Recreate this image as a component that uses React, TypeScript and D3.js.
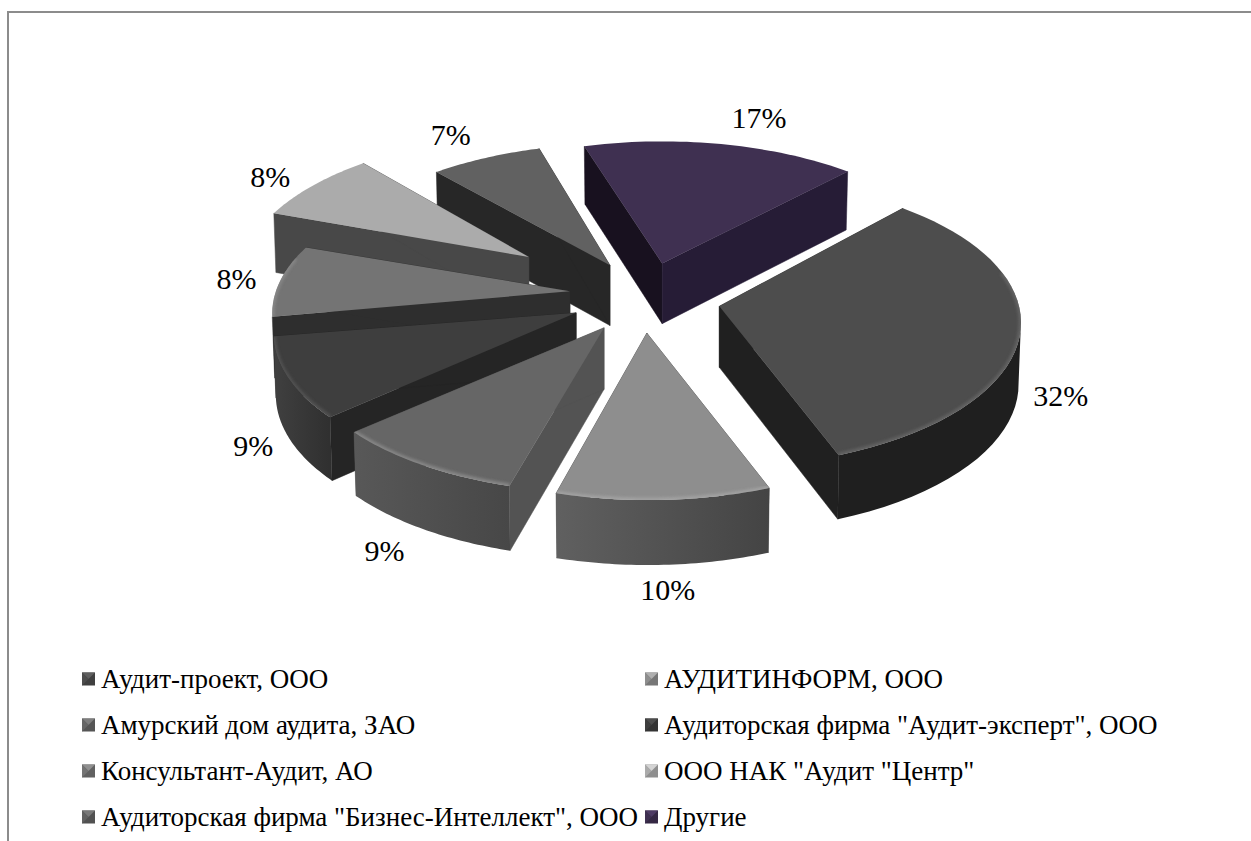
import { useEffect, useRef } from "react";
import * as d3 from "d3";

const categories = [
  "Аудит-проект, ООО",
  "АУДИТИНФОРМ, ООО",
  "Амурский дом аудита, ЗАО",
  'Аудиторская фирма "Аудит-эксперт", ООО',
  "Консультант-Аудит, АО",
  'ООО НАК "Аудит "Центр"',
  'Аудиторская фирма "Бизнес-Интеллект", ООО',
  "Другие",
];
const shares = [32.3, 9.8, 9.0, 9.0, 8.1, 8.0, 6.9, 16.9];
const explode = [0.245, 0.24, 0.228, 0.235, 0.254, 0.504, 0.267, 0.24];

// colours per slice
const topColors = ["#4d4d4d", "#8e8e8e", "#666666", "#3e3e3e", "#747474", "#ababab", "#616161", "#3f3051"];
const rimColors = ["#6a6a6a", "#a8a8a8", "#929292", "#585858", "#8c8c8c", "#c6c6c6", "#6c6c6c", "#4a3b5c"];
const sideLeft = ["#1f1f1f", "#606060", "#585858", "#404040", "#333333", "#555555", "#444444", "#261c36"];
const sideRight = ["#1f1f1f", "#444444", "#474747", "#2f2f2f", "#2e2e2e", "#484848", "#272727", "#261c36"];
const cutStart = ["#202020", "#444444", "#535353", "#252525", "#2e2e2e", "#484848", "#272727", "#18111f"];
const cutEnd = ["#202020", "#444444", "#535353", "#252525", "#2e2e2e", "#484848", "#272727", "#261c36"];

// small corrections for the perspective of each exploded slice
const apexAdjust = [[0, 6], [-2, 0], [0, 3], [-1, 4], [0, 1], [0, 0], [0, 1], [3, -1]];
const rimAdjust = [[-2, 0], [-1, 0], [-3, 1], [0, 2], [6, 1], [15, 0], [7, 1.5], [3, -1]];

// label offsets from the middle of each slice's rim
const labelNudge = [[38, 66], [3, 90], [-40, 87], [-35, 70], [-38, -1], [-28, -9], [-28, -22], [41, -28]];

const App = () => {
  const svgRef = useRef(null);

  useEffect(() => {
    if (!svgRef.current) return;
    const svg = d3.select(svgRef.current);
    svg.selectAll("*").remove();

    const width = 1251;
    const height = 841;
    const serif = "'Liberation Serif', serif";

    // Frame: top and left edges only
    svg.append("path")
      .attr("d", `M${width},12H8V${height}`)
      .attr("fill", "none")
      .attr("stroke", "#8c8c8c")
      .attr("stroke-width", 2);

    // Pie projection (tilted, front larger than the back)
    const cx = 645;
    const cy = 293;
    const rx = 300;
    const ry = 141;
    const persp = 0.1557;
    const project = (t: number): [number, number] => {
      const s = 1 / (1 + persp * Math.cos(t));
      return [rx * Math.sin(t) * s, -ry * Math.cos(t) * s];
    };
    const depth = (y: number) => 61 + (y - 300) * 0.02;

    const pie = d3.pie<number>()
      .sort(null)
      .startAngle((43.5 * Math.PI) / 180)
      .endAngle((403.5 * Math.PI) / 180);
    const arcs = pie(shares);

    const defs = svg.append("defs");
    const blur = defs.append("filter").attr("id", "rim-blur")
      .attr("x", "-10%").attr("y", "-10%").attr("width", "120%").attr("height", "120%");
    blur.append("feGaussianBlur").attr("stdDeviation", 1.8);

    const line = d3.line();

    // back to front
    const drawOrder = [7, 6, 5, 4, 3, 2, 1, 0];
    drawOrder.forEach((i) => {
      const a = arcs[i];
      const mid = (a.startAngle + a.endAngle) / 2;
      const mv = project(mid);
      const base: [number, number] = [cx + explode[i] * mv[0], cy + explode[i] * mv[1]];
      const apex: [number, number] = [base[0] + apexAdjust[i][0], base[1] + apexAdjust[i][1]];
      const angles = d3.range(41).map((k) => a.startAngle + ((a.endAngle - a.startAngle) * k) / 40);
      const rim = angles.map((t) => {
        const v = project(t);
        return [base[0] + v[0] + rimAdjust[i][0], base[1] + v[1] + rimAdjust[i][1]] as [number, number];
      });
      // only the front part of the outer wall faces the viewer
      const outer = rim.filter((_, k) => Math.cos(angles[k]) < -persp);
      const glow = rim.filter((_, k) => Math.cos(angles[k]) < 0.25);
      const drop = (p: [number, number]): [number, number] => [
        apex[0] + (p[0] - apex[0]) * 0.992,
        p[1] + depth(p[1]),
      ];
      const first = rim[0];
      const last = rim[rim.length - 1];
      const g = svg.append("g");

      g.append("path")
        .attr("d", line([apex, first, drop(first), drop(apex)]) + "Z")
        .attr("fill", cutStart[i])
        .attr("stroke", cutStart[i])
        .attr("stroke-width", 0.5);
      g.append("path")
        .attr("d", line([apex, last, drop(last), drop(apex)]) + "Z")
        .attr("fill", cutEnd[i])
        .attr("stroke", cutEnd[i])
        .attr("stroke-width", 0.5);

      if (outer.length > 1) {
        const grad = defs.append("linearGradient").attr("id", `side-${i}`);
        grad.append("stop").attr("offset", 0).attr("stop-color", sideLeft[i]);
        grad.append("stop").attr("offset", 1).attr("stop-color", sideRight[i]);
        g.append("path")
          .attr("d", line([...outer, ...outer.map(drop).reverse()]) + "Z")
          .attr("fill", `url(#side-${i})`);
      }

      const top = line([apex, ...rim]) + "Z";
      defs.append("clipPath").attr("id", `top-${i}`).append("path").attr("d", top);
      g.append("path").attr("d", top).attr("fill", topColors[i]);
      if (glow.length > 1) {
        g.append("g").attr("clip-path", `url(#top-${i})`)
          .append("path")
          .attr("d", line(glow))
          .attr("fill", "none")
          .attr("stroke", rimColors[i])
          .attr("stroke-width", 5)
          .attr("opacity", 0.75)
          .attr("filter", "url(#rim-blur)");
      }
    });

    // Percent labels
    arcs.forEach((a, i) => {
      const mid = (a.startAngle + a.endAngle) / 2;
      const mv = project(mid);
      svg.append("text")
        .attr("x", cx + (1 + explode[i]) * mv[0] + labelNudge[i][0])
        .attr("y", cy + (1 + explode[i]) * mv[1] + labelNudge[i][1])
        .attr("dy", "0.35em")
        .attr("text-anchor", "middle")
        .attr("font-family", serif)
        .attr("font-size", 30)
        .attr("fill", "#000")
        .text(`${Math.round(shares[i])}%`);
    });

    // Legend, two columns filled row by row
    const legendX = d3.scaleOrdinal<number, number>().domain([0, 1]).range([88.5, 651.5]);
    const legendY = d3.scalePoint<number>().domain([0, 1, 2, 3]).range([679, 817]);
    categories.forEach((name, i) => {
      const lx = legendX(i % 2);
      const ly = legendY(Math.floor(i / 2)) as number;
      const g = svg.append("g").attr("transform", `translate(${lx},${ly})`);
      const k = 6.5;
      const base = d3.color(topColors[i]) as d3.RGBColor;
      g.append("rect")
        .attr("x", -k).attr("y", -k).attr("width", 2 * k).attr("height", 2 * k)
        .attr("fill", base.darker(0.5).formatHex());
      const faces: [string, [number, number][]][] = [
        [base.brighter(0.6).formatHex(), [[-k, -k], [k, -k], [0, 0]]],
        [base.formatHex(), [[-k, -k], [-k, k], [0, 0]]],
      ];
      faces.forEach(([fill, pts]) => {
        g.append("path").attr("d", line(pts) + "Z").attr("fill", fill);
      });
      svg.append("text")
        .attr("x", lx + 12.5)
        .attr("y", ly)
        .attr("dy", "0.33em")
        .attr("font-family", serif)
        .attr("font-size", 27)
        .attr("fill", "#000")
        .text(name);
    });
  }, []);

  return (
    <svg
      ref={svgRef}
      width={1251}
      height={841}
      style={{ position: "absolute", left: 0, top: 0, background: "#fff" }}
    />
  );
};

export default App;
